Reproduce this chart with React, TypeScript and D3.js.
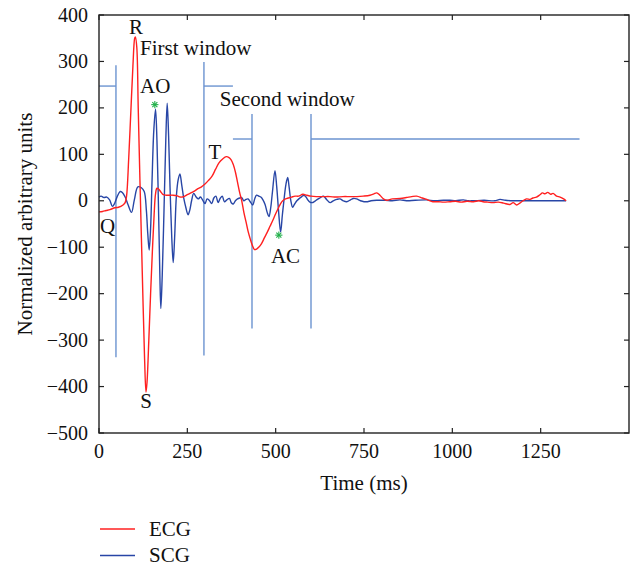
import React from "react";
import * as d3 from "d3";

// ---- data (time in ms, normalized arbitrary units) ----
const ecgTime = [0, 10, 20, 31, 45, 55, 68, 74, 78, 84, 90, 96, 101, 103, 107, 111, 116, 120, 125, 129, 133, 136, 141, 146, 151, 156, 160, 164, 170, 176, 182, 190, 200, 210, 220, 230, 240, 250, 260, 270, 280, 290, 300, 310, 320, 330, 340, 350, 360, 368, 374, 380, 386, 392, 398, 404, 410, 416, 422, 428, 434, 440, 446, 452, 460, 468, 476, 484, 492, 500, 508, 514, 520, 528, 536, 545, 555, 565, 577, 588, 600, 615, 635, 654, 670, 690, 710, 730, 748, 767, 778, 786, 795, 805, 814, 830, 852, 870, 885, 899, 915, 930, 945, 960, 975, 993, 1010, 1025, 1041, 1060, 1075, 1087, 1100, 1115, 1130, 1145, 1163, 1172, 1182, 1191, 1200, 1210, 1220, 1228, 1238, 1248, 1255, 1262, 1270, 1278, 1285, 1295, 1305, 1315, 1322];
const ecgValue = [-24, -23, -21, -19, -15, -14, -9, -4, 10, 90, 190, 290, 350, 353, 330, 200, 40, -80, -230, -340, -412, -390, -300, -200, -110, -30, 15, 27, 24, 18, 13, 12, 12, 12, 11, 8, 9, 13, 17, 21, 26, 30, 36, 44, 53, 68, 82, 90, 95, 93, 88, 78, 62, 40, 18, 0, -25, -45, -66, -82, -96, -105, -104, -100, -92, -80, -68, -55, -42, -28, -15, -6, 0, 4, 6, 8, 10, 10, 14, 12, 10, 9, 9, 9, 8, 9, 9, 9, 10, 12, 15, 17, 12, 4, 1, 4, 5, 7, 9, 10, 6, 2, -2, -2, -3, -2, -1, -3, -1, -2, 0, -2, -3, -4, -3, -5, -8, -4, -9, -5, 0, 4, 3, 6, 8, 13, 17, 15, 18, 14, 16, 10, 8, 4, 0];

const scgTime = [0, 6, 14, 22, 30, 38, 44, 52, 60, 66, 74, 82, 92, 100, 110, 120, 128, 134, 138, 142, 146, 150, 155, 160, 164, 168, 172, 175, 179, 184, 189, 193, 197, 201, 206, 210, 214, 219, 224, 229, 234, 240, 246, 252, 257, 262, 268, 275, 281, 287, 293, 300, 306, 312, 319, 325, 331, 337, 343, 349, 355, 362, 369, 375, 380, 386, 392, 398, 404, 410, 416, 422, 428, 435, 441, 446, 452, 458, 464, 470, 476, 481, 486, 491, 498, 503, 508, 514, 519, 524, 529, 534, 538, 543, 548, 553, 560, 567, 574, 580, 586, 591, 597, 603, 609, 616, 625, 635, 644, 654, 663, 673, 682, 691, 701, 712, 720, 729, 740, 750, 760, 770, 786, 810, 830, 852, 870, 895, 927, 950, 975, 993, 1010, 1031, 1045, 1058, 1090, 1120, 1135, 1150, 1172, 1200, 1228, 1260, 1290, 1322];
const scgValue = [8, 10, 7, 8, 2, -12, -6, 10, 20, 18, 8, -8, -25, 2, 30, 28, 20, -20, -70, -106, -60, 40, 150, 197, 130, 0, -150, -232, -160, -20, 130, 210, 140, 30, -80, -133, -80, 10, 45, 58, 35, 5, -15, -30, -20, 0, 16, 8, 4, 8, 2, -6, 4, 1, -6, 6, 10, -4, 5, 10, -2, 2, 5, -5, -7, 0, 4, 6, 7, 0, 3, 4, -2, -9, 5, 12, 10, 8, 2, -8, -25, -34, -15, 20, 65, 30, -20, -67, -30, 5, 35, 50, 30, 0, -14, -8, 0, 5, 9, 12, 8, 2, -3, -4, -2, 2, 6, 10, 3, -4, 0, 3, 4, 0, -2, 2, 5, 4, 0, -2, -2, 0, 1, 1, 0, 2, 0, 1, 2, 0, 1, 1, 0, 2, 0, 0, 1, 0, 3, 1, 0, 0, 0, 0, 0, 0];

const xTicks = [0, 250, 500, 750, 1000, 1250];
const yTicks = [400, 300, 200, 100, 0, -100, -200, -300, -400, -500];

// window guide segments [x1, y1, x2, y2] in data units
const windowSegments = [
  [0, 247, 48, 247],
  [48, 292, 48, -337],
  [297, 299, 297, -333],
  [297, 247, 379, 247],
  [379, 133, 433, 133],
  [433, 187, 433, -275],
  [600, 187, 600, -275],
  [600, 133, 1360, 133],
];

// annotation labels: [text, ms, value, anchor]
const annotations: [string, number, number, string][] = [
  ["R", 105, 360, "middle"],
  ["First window", 116, 314, "start"],
  ["AO", 116, 231, "start"],
  ["Second window", 342, 203, "start"],
  ["T", 328, 89, "middle"],
  ["Q", 3, -69, "start"],
  ["S", 133, -446, "middle"],
  ["AC", 528, -135, "middle"],
];

// green asterisk markers (AO, AC)
const markers = [
  [158, 207],
  [509, -74],
];

const legendItems = [
  { name: "ECG", color: "#ff2020" },
  { name: "SCG", color: "#2846a6" },
];

const W = 635;
const H = 567;
const FONT = "'Liberation Serif', 'Times New Roman', serif";
const FS = 20;
const FS_LABEL = 21;

export default function App() {
  const x = d3.scaleLinear().domain([0, 1500]).range([99, 629]);
  const y = d3.scaleLinear().domain([-500, 400]).range([433, 15]);
  const fmt = d3.format("d");

  const line = d3
    .line<[number, number]>()
    .x((d) => x(d[0]))
    .y((d) => y(d[1]))
    .curve(d3.curveCatmullRom.alpha(0.5));

  const ecg = ecgTime.map((t, i) => [t, ecgValue[i]] as [number, number]);
  const scg = scgTime.map((t, i) => [t, scgValue[i]] as [number, number]);

  const [x0, x1] = x.range();
  const [yb, yt] = y.range();
  const tl = 5;

  return (
    <svg
      width={W}
      height={H}
      style={{ position: "absolute", left: 0, top: 0, background: "#fff" }}
      fontFamily={FONT}
      fontSize={FS}
    >
      <rect x={0} y={0} width={W} height={H} fill="#fff" />
      {/* window guides */}
      {windowSegments.map((s, i) => (
        <line
          key={"w" + i}
          x1={x(s[0])}
          y1={y(s[1])}
          x2={x(s[2])}
          y2={y(s[3])}
          stroke="#6b93d0"
          strokeWidth={1.4}
        />
      ))}
      {/* series */}
      <path d={line(scg) || ""} fill="none" stroke="#2846a6" strokeWidth={1.4} />
      <path d={line(ecg) || ""} fill="none" stroke="#ff2020" strokeWidth={1.4} />
      {/* markers */}
      {markers.map((m, i) => {
        const cx = x(m[0]);
        const cy = y(m[1]);
        const r = 3.6;
        return (
          <g key={"m" + i} stroke="#22b04a" strokeWidth={1.1}>
            <line x1={cx - r} y1={cy} x2={cx + r} y2={cy} />
            <line x1={cx} y1={cy - r} x2={cx} y2={cy + r} />
            <line x1={cx - r * 0.7} y1={cy - r * 0.7} x2={cx + r * 0.7} y2={cy + r * 0.7} />
            <line x1={cx - r * 0.7} y1={cy + r * 0.7} x2={cx + r * 0.7} y2={cy - r * 0.7} />
          </g>
        );
      })}
      {/* annotations */}
      {annotations.map((a, i) => (
        <text key={"a" + i} x={x(a[1])} y={y(a[2])} textAnchor={a[3]} fill="#111" fontSize={FS_LABEL}>
          {a[0]}
        </text>
      ))}
      {/* frame */}
      <rect x={x0} y={yt} width={x1 - x0} height={yb - yt} fill="none" stroke="#222" strokeWidth={1.4} />
      {/* x ticks */}
      {xTicks.map((t) => (
        <g key={"xt" + t}>
          <line x1={x(t)} x2={x(t)} y1={yb} y2={yb - tl} stroke="#222" strokeWidth={1.2} />
          <line x1={x(t)} x2={x(t)} y1={yt} y2={yt + tl} stroke="#222" strokeWidth={1.2} />
          <text x={x(t)} y={458} textAnchor="middle" fill="#111">
            {fmt(t)}
          </text>
        </g>
      ))}
      {/* y ticks */}
      {yTicks.map((t) => (
        <g key={"yt" + t}>
          <line x1={x0} x2={x0 + tl} y1={y(t)} y2={y(t)} stroke="#222" strokeWidth={1.2} />
          <line x1={x1} x2={x1 - tl} y1={y(t)} y2={y(t)} stroke="#222" strokeWidth={1.2} />
          <text x={88} y={y(t) + 6.5} textAnchor="end" fill="#111">
            {fmt(t)}
          </text>
        </g>
      ))}
      {/* axis titles */}
      <text x={(x0 + x1) / 2} y={490} textAnchor="middle" fill="#111" fontSize={FS_LABEL}>
        Time (ms)
      </text>
      <text
        transform={`translate(31.5, ${(yt + yb) / 2}) rotate(-90)`}
        textAnchor="middle"
        fill="#111"
        fontSize={FS_LABEL}
      >
        Normalized arbitrary units
      </text>
      {/* legend */}
      {legendItems.map((it, i) => {
        const ly = 529 + i * 26.5;
        return (
          <g key={"l" + i}>
            <line x1={100} x2={135} y1={ly} y2={ly} stroke={it.color} strokeWidth={1.4} />
            <text x={149} y={ly + 6.5} fill="#111" fontSize={FS_LABEL}>
              {it.name}
            </text>
          </g>
        );
      })}
    </svg>
  );
}
